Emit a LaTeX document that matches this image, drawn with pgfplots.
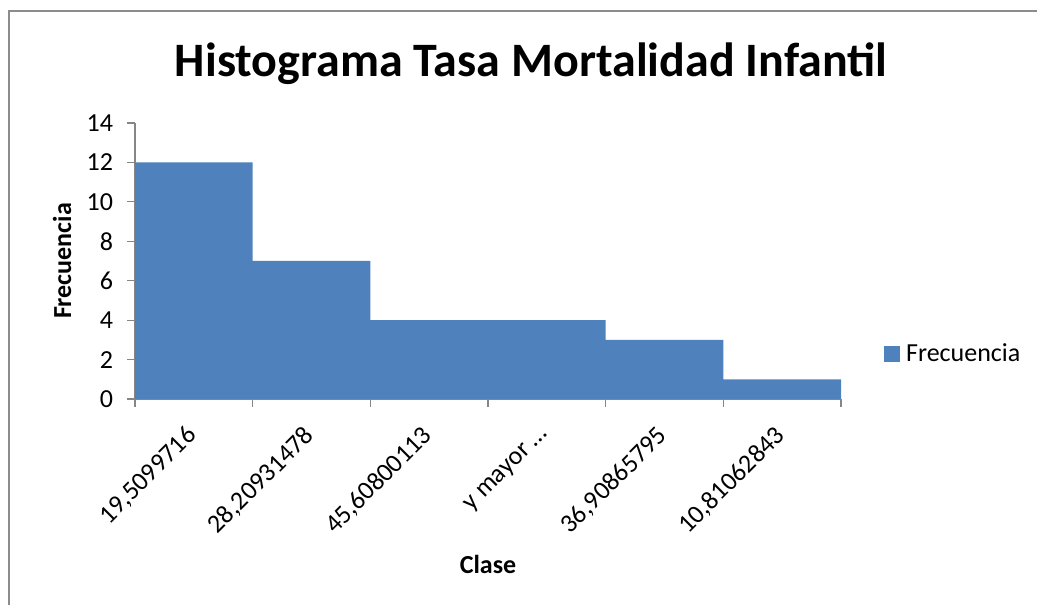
\documentclass[border=0pt]{standalone}
\usepackage{fontspec}
\setmainfont{Carlito}
\usepackage{pgfplots}
\pgfplotsset{compat=1.18}
\definecolor{barblue}{HTML}{4F81BD}
\definecolor{axgray}{HTML}{868686}
\definecolor{framegray}{HTML}{8C8C8C}
\begin{document}
\begin{tikzpicture}
\useasboundingbox (0,0) rectangle (777.75pt,453.75pt);
\draw[framegray, line width=1.5pt] (6.75pt,0pt) -- (6.75pt,445.5pt) -- (777.75pt,445.5pt);
\begin{axis}[
  at={(101.25pt,154.5pt)}, anchor=south west,
  scale only axis, width=529.5pt, height=207pt,
  xmin=0, xmax=6, ymin=0, ymax=14,
  axis lines=left, axis line style={axgray, line width=0.9pt, -},
  ytick={0,2,...,14},
  xtick={0.5,1.5,2.5,3.5,4.5,5.5},
  xticklabels={{19,5099716}, {28,20931478}, {45,60800113}, {y mayor …}, {36,90865795}, {10,81062843}},
  minor xtick={0,1,2,3,4,5,6},
  major x tick style={draw=none},
  minor x tick style={axgray, line width=0.9pt},
  y tick style={axgray, line width=0.9pt},
  tick align=outside, major tick length=6pt, minor tick length=6pt,
  /pgf/number format/assume math mode=true,
  ticklabel style={font=\fontsize{19.5}{23}\selectfont, text=black},
  yticklabel style={xshift=-7pt},
  xticklabel style={anchor=east, xshift=1.5pt, yshift=-16pt, rotate=45},
  title={\fontsize{36}{43}\selectfont\bfseries Histograma Tasa Mortalidad Infantil},
  title style={at={(axis description cs:0.561,1.174)}, anchor=base, yshift=-7pt},
  xlabel={\fontsize{19.5}{23}\selectfont\bfseries Clase},
  xlabel style={at={(axis description cs:0.5,-0.601)}, anchor=center},
  ylabel={\fontsize{19.5}{23}\selectfont\bfseries Frecuencia},
  ylabel style={at={(axis description cs:-0.1034,0.5)}, anchor=center, rotate=0},
  legend style={at={(axis description cs:1.055,0.163)}, anchor=west, draw=none,
    font=\fontsize{19.5}{23}\selectfont, cells={anchor=west}},
  legend image code/.code={\fill[barblue] (0pt,-6pt) rectangle (12pt,6pt); \path (14.5pt,0pt);},
]
\addplot[ybar, bar width=1, bar shift=0pt, fill=barblue, draw=none]
  coordinates {(0.5,12) (1.5,7) (2.5,4) (3.5,4) (4.5,3) (5.5,1)};
\addlegendentry{Frecuencia}
\end{axis}
\end{tikzpicture}
\end{document}
